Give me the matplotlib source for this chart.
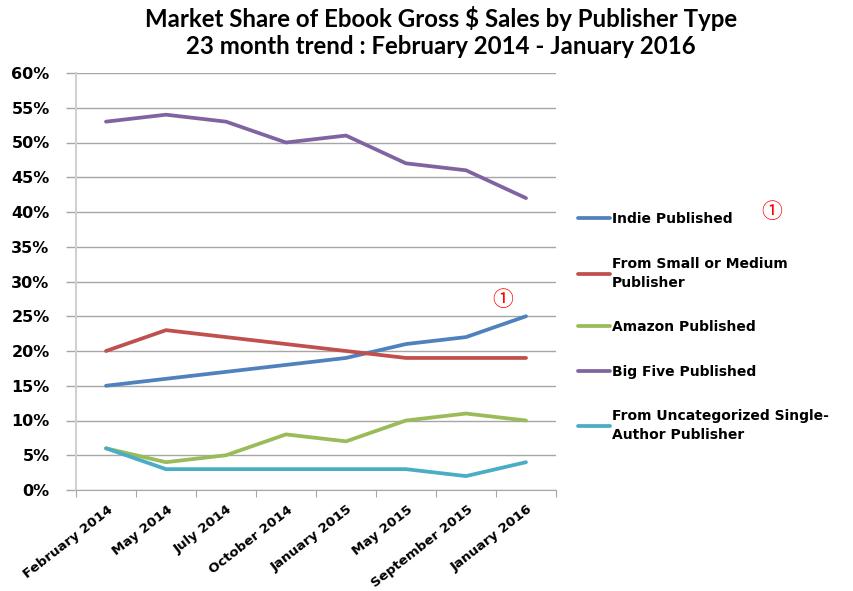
import matplotlib.pyplot as plt
import matplotlib.transforms as mtransforms
from matplotlib.ticker import PercentFormatter

# data
months = ['February 2014', 'May 2014', 'July 2014', 'October 2014',
          'January 2015', 'May 2015', 'September 2015', 'January 2016']
indie = [15, 16, 17, 18, 19, 21, 22, 25]
small_medium = [20, 23, 22, 21, 20, 19, 19, 19]
amazon = [6, 4, 5, 8, 7, 10, 11, 10]
big_five = [53, 54, 53, 50, 51, 47, 46, 42]
uncategorized = [6, 3, 3, 3, 3, 3, 2, 4]

series = [
    ('Indie Published', indie, '#4F81BD'),
    ('From Small or Medium\nPublisher', small_medium, '#C0504D'),
    ('Amazon Published', amazon, '#9BBB59'),
    ('Big Five Published', big_five, '#8064A2'),
    ('From Uncategorized Single-\nAuthor Publisher', uncategorized, '#4BACC6'),
]

plt.rcParams['font.family'] = ['DejaVu Sans']
grid_col = '#a6a6a6'

fig = plt.figure(figsize=(8.54, 5.91), dpi=100)
ax = fig.add_axes([76 / 854, 1 - 490 / 591, 480 / 854, 417 / 591])

x = range(len(months))
for label, vals, color in series:
    ax.plot(x, vals, color=color, linewidth=2.7, label=label, solid_capstyle='round')

ax.set_xlim(-0.5, len(months) - 0.5)
ax.set_ylim(0, 60)
ax.set_yticks(range(0, 61, 5))
ax.yaxis.set_major_formatter(PercentFormatter(decimals=0))
ax.grid(axis='y', color=grid_col, linewidth=1)
ax.set_axisbelow(True)

for s in ['top', 'right']:
    ax.spines[s].set_visible(False)
ax.spines['left'].set_color('#d0d0d0')
ax.spines['left'].set_linewidth(1.5)
ax.spines['bottom'].set_color(grid_col)

# ticks between categories on x, labels at category centres
ax.set_xticks([i - 0.5 for i in range(len(months) + 1)])
ax.set_xticklabels([])
ax.tick_params(axis='x', length=5, color=grid_col)
ax.set_xticks(list(x), minor=True)
ax.set_xticklabels(months, minor=True, rotation=38, ha='right', va='center',
                   rotation_mode='anchor', fontsize=9.6, fontweight='bold')
ax.tick_params(axis='x', which='minor', length=0, pad=13)
shift = mtransforms.ScaledTranslation(5 / 100, 0, fig.dpi_scale_trans)
for t in ax.get_xticklabels(minor=True):
    t.set_transform(t.get_transform() + shift)

ax.tick_params(axis='y', length=7, color=grid_col, width=1, labelsize=11.5, pad=12)
for t in ax.get_yticklabels():
    t.set_fontweight('bold')

fig.text(441 / 854, 1 - 6 / 591, 'Market Share of Ebook Gross $ Sales by Publisher Type\n'
         '23 month trend : February 2014 - January 2016',
         ha='center', va='top', fontsize=17.3, fontweight='bold',
         linespacing=1.2, family=['Lato', 'DejaVu Sans'])

leg = ax.legend(loc='upper left', bbox_to_anchor=(578 / 854, 1 - 212 / 591),
                bbox_transform=fig.transFigure, frameon=False, borderpad=0,
                borderaxespad=0, handlelength=2.3, handletextpad=0.15,
                labelspacing=2.2, prop={'weight': 'bold', 'size': 10})
for t in leg.get_texts():
    t.set_linespacing(1.45)

# red circled annotations
fig.text(772 / 854, 1 - 212 / 591, '\u2460', color='red', fontsize=15,
         ha='center', va='center', family=['Noto Sans CJK SC', 'DejaVu Sans'])
fig.text(503 / 854, 1 - 300 / 591, '\u2460', color='red', fontsize=15,
         ha='center', va='center', family=['Noto Sans CJK SC', 'DejaVu Sans'])

fig.savefig('out.png', dpi=100)
